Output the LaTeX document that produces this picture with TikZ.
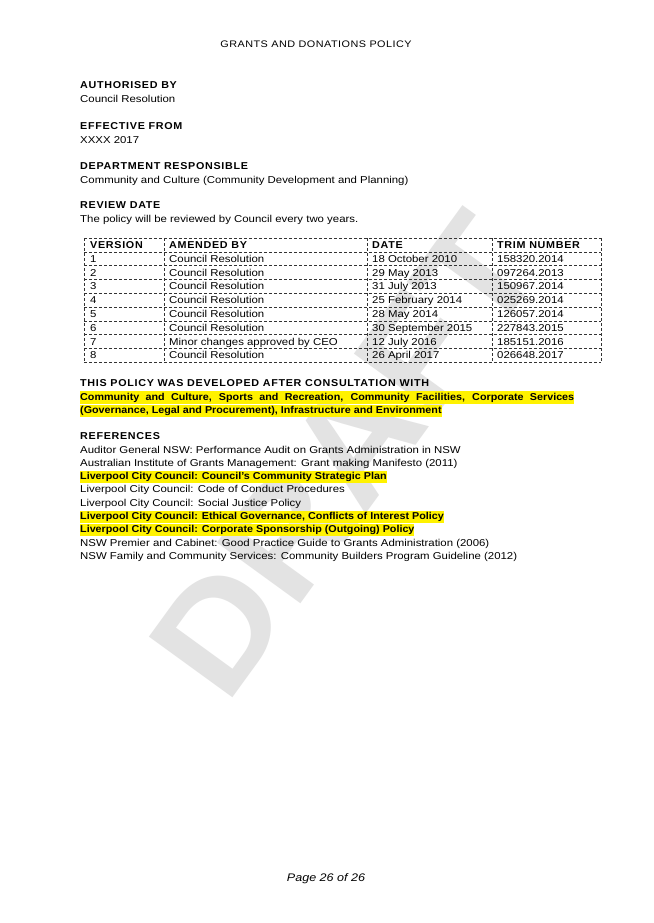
\documentclass[tikz,border=0pt]{standalone}
\usepackage{fontspec}
\setmainfont{Liberation Sans}[FakeStretch=1.14,BoldFeatures={FakeStretch=1.075}]
\begin{document}
\begin{tikzpicture}[x=1pt,y=-1pt,
  txt/.style={anchor=base west,inner sep=0pt,font=\fontsize{10}{12}\selectfont},
  hd/.style={txt,font=\fontsize{10}{12}\selectfont\bfseries\addfontfeature{LetterSpace=7}},
  hl/.style={txt,fill=yellow,inner ysep=1.5pt},
  cell/.style={txt},
  rule/.style={densely dashed,line width=0.5pt,black!80}]
\useasboundingbox (0,0) rectangle (653,923);
\fill[white] (0,0) rectangle (653,923);
% watermark
\node[rotate=54,text=black!11,font=\fontsize{150}{150}\selectfont\bfseries] (wm) at (345,455) {DRAFT};
\node[font=\fontsize{9.5}{11}\selectfont\addfontfeature{LetterSpace=5}] (title) at (316,44) {GRANTS AND DONATIONS POLICY};
\node[hd] (h1) at (80,89) {AUTHORISED BY};
\node[txt] (t1) at (80,103) {Council Resolution};
\node[hd] (h2) at (80,129) {EFFECTIVE FROM};
\node[txt] (t2) at (80,143) {XXXX 2017};
\node[hd] (h3) at (80,169) {DEPARTMENT RESPONSIBLE};
\node[txt] (t3) at (80,183) {Community and Culture (Community Development and Planning)};
\node[hd] (h4) at (80,208) {REVIEW DATE};
\node[txt] (t4) at (80,222) {The policy will be reviewed by Council every two years.};
% table
\foreach \i in {0,...,9} \draw[rule] (84,{238+13.8*\i}) -- (601,{238+13.8*\i});
\foreach \x in {84,164,367,492,601} \draw[rule] (\x,238) -- (\x,362.2);
\node[hd] (c0a) at (90,248.5) {VERSION};
\node[hd] (c0b) at (169,248.5) {AMENDED BY};
\node[hd] (c0c) at (372,248.5) {DATE};
\node[hd] (c0d) at (497,248.5) {TRIM NUMBER};
\foreach \n/\a/\d/\t [count=\k] in {1/Council Resolution/18 October 2010/158320.2014,
  2/Council Resolution/29 May 2013/097264.2013,
  3/Council Resolution/31 July 2013/150967.2014,
  4/Council Resolution/25 February 2014/025269.2014,
  5/Council Resolution/28 May 2014/126057.2014,
  6/Council Resolution/30 September 2015/227843.2015,
  7/Minor changes approved by CEO/12 July 2016/185151.2016,
  8/Council Resolution/26 April 2017/026648.2017}{
  \node[cell] (r\k a) at (90,{248.5+13.8*\k}) {\n};
  \node[cell] (r\k b) at (169,{248.5+13.8*\k}) {\a};
  \node[cell] (r\k c) at (372,{248.5+13.8*\k}) {\d};
  \node[cell] (r\k d) at (497,{248.5+13.8*\k}) {\t};
}
\node[hd] (h5) at (80,386) {THIS POLICY WAS DEVELOPED AFTER CONSULTATION WITH};
\node[hl,font=\fontsize{10}{12}\selectfont\bfseries] (c1) at (80,400) {\makebox[494pt][s]{Community and Culture, Sports and Recreation, Community Facilities, Corporate Services}};
\node[hl,font=\fontsize{10}{12}\selectfont\bfseries] (c2) at (80,413.5) {(Governance, Legal and Procurement), Infrastructure and Environment};
\node[hd] (h6) at (80,439.5) {REFERENCES};
\node[txt] (f1) at (80,453) {Auditor General NSW: Performance Audit on Grants Administration in NSW};
\node[txt] (f2) at (80,466.3) {Australian Institute of Grants Management: Grant making Manifesto (2011)};
\node[hl,font=\fontsize{10}{12}\selectfont\bfseries] (f3) at (80,479.6) {Liverpool City Council: Council's Community Strategic Plan};
\node[txt] (f4) at (80,492.9) {Liverpool City Council: Code of Conduct Procedures};
\node[txt] (f5) at (80,506.2) {Liverpool City Council: Social Justice Policy};
\node[hl,font=\fontsize{10}{12}\selectfont\bfseries] (f6) at (80,519.5) {Liverpool City Council: Ethical Governance, Conflicts of Interest Policy};
\node[hl,font=\fontsize{10}{12}\selectfont\bfseries] (f7) at (80,532.8) {Liverpool City Council: Corporate Sponsorship (Outgoing) Policy};
\node[txt] (f8) at (80,546.1) {NSW Premier and Cabinet: Good Practice Guide to Grants Administration (2006)};
\node[txt] (f9) at (80,559.4) {NSW Family and Community Services: Community Builders Program Guideline (2012)};
\node[font=\fontsize{11}{13}\selectfont\itshape] (pg) at (326,879) {Page 26 of 26};
\end{tikzpicture}
\end{document}
